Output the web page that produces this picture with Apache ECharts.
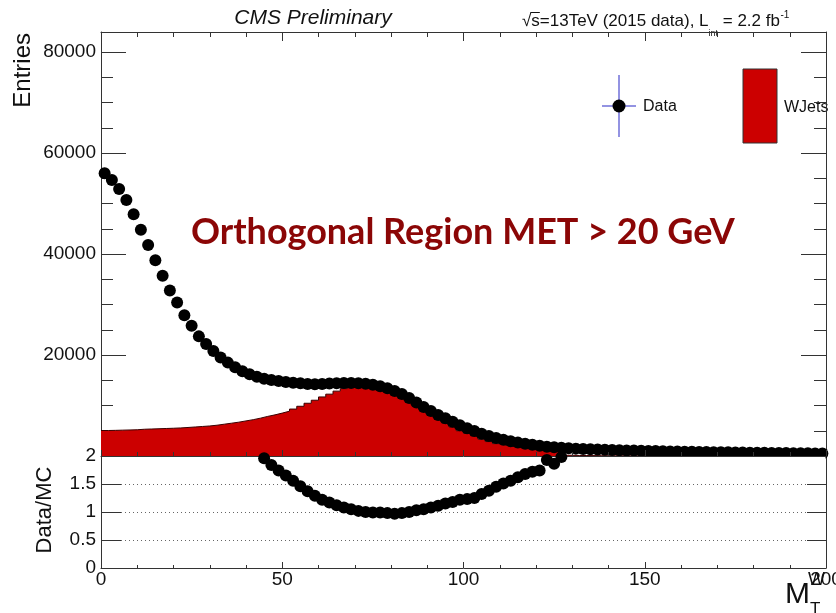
<!DOCTYPE html>
<html>
<head>
<meta charset="utf-8">
<script src="https://cdn.jsdelivr.net/npm/echarts@6/dist/echarts.min.js"></script>
<style>
  html, body { margin: 0; padding: 0; background: #fff; }
  #chart { width: 836px; height: 613px; }
</style>
</head>
<body>
<div id="chart"></div>
<script>
// Transverse-mass histogram, 2 GeV bins from 0 to 200 GeV.
const BIN_WIDTH = 2;
const X_MIN = 0;
const X_MAX = 200;

// Observed entries per bin (bin centres 1, 3, 5, ... 199 GeV).
const dataEntries = [
  56000, 54700, 52900, 50700, 47900, 44800, 41800, 38800, 35700, 32800,
  30400, 27900, 25800, 23700, 22200, 20800, 19500, 18500, 17600, 16800,
  16200, 15700, 15300, 15050, 14850, 14650, 14500, 14400, 14250, 14200,
  14250, 14350, 14400, 14450, 14450, 14400, 14300, 14100, 13800, 13400,
  12900, 12300, 11500, 10600, 9700, 8900, 8100, 7500, 6800, 6100,
  5500, 4950, 4400, 3950, 3550, 3200, 2900, 2650, 2450, 2250,
  2050, 1850, 1720, 1620, 1540, 1460, 1390, 1330, 1280, 1230,
  1190, 1150, 1110, 1070, 1040, 1000, 970, 940, 910, 880,
  850, 830, 800, 780, 760, 740, 720, 700, 680, 660,
  640, 625, 610, 595, 580, 565, 550, 535, 520, 505
];

// W+jets simulation per bin.
const wjetsEntries = [
  5050, 5080, 5120, 5160, 5200, 5300, 5350, 5400, 5450, 5500,
  5560, 5650, 5750, 5850, 5950, 6100, 6300, 6500, 6700, 6950,
  7200, 7500, 7850, 8150, 8500, 8880, 9300, 9850, 10450, 11050,
  11700, 12250, 12850, 13350, 13750, 14100, 14300, 14250, 13950, 13650,
  13300, 12550, 11500, 10300, 9240, 8240, 7300, 6520, 5760, 5000,
  4470, 3960, 3330, 2860, 2450, 2120, 1860, 1640, 1460, 1310,
  1180, 960, 925, 820, 150, 110, 90, 75, 65, 55,
  50, 46, 42, 39, 36, 33, 30, 28, 26, 24,
  22, 20, 19, 18, 17, 16, 15, 14, 13, 12,
  12, 11, 11, 10, 10, 9, 9, 8, 8, 8
];

// Data / MC per bin; null where the ratio falls outside the 0-2 window.
const dataOverMC = [
  null, null, null, null, null, null, null, null, null, null,
  null, null, null, null, null, null, null, null, null, null,
  null, null, 1.96, 1.84, 1.74, 1.65, 1.56, 1.46, 1.37, 1.29,
  1.22, 1.17, 1.12, 1.08, 1.05, 1.02, 1.00, 0.99, 0.99, 0.98,
  0.97, 0.98, 1.00, 1.03, 1.05, 1.08, 1.11, 1.15, 1.18, 1.22,
  1.23, 1.25, 1.32, 1.38, 1.45, 1.51, 1.56, 1.62, 1.68, 1.72,
  1.74, 1.93, 1.86, 1.98, null, null, null, null, null, null,
  null, null, null, null, null, null, null, null, null, null,
  null, null, null, null, null, null, null, null, null, null,
  null, null, null, null, null, null, null, null, null, null
];

const binCenters = dataEntries.map((_, i) => X_MIN + i * BIN_WIDTH + BIN_WIDTH / 2);

// Histogram outline as stairs over the bin edges.
const wjetsStairs = wjetsEntries.map((v, i) => [X_MIN + i * BIN_WIDTH, v]);
wjetsStairs.push([X_MAX, wjetsEntries[wjetsEntries.length - 1]]);

const dataPoints = binCenters.map((c, i) => [c, dataEntries[i]]);
const ratioPoints = binCenters
  .map((c, i) => [c, dataOverMC[i]])
  .filter(p => p[1] !== null);

const FONT = '"Liberation Sans", Arial, Helvetica, sans-serif';
const INK = '#111';
const FRAME = '#333';
const MARKER_SIZE = 12;

const measureCtx = document.createElement('canvas').getContext('2d');
function textWidth(str, font) {
  measureCtx.font = font;
  return measureCtx.measureText(str).width;
}

const chart = echarts.init(document.getElementById('chart'), null, { renderer: 'canvas' });

function xAxisDef(gridIndex, position, majorLen, minorLen, showLabels, z) {
  return {
    type: 'value', gridIndex, position, min: X_MIN, max: X_MAX, interval: 50,
    axisLine: { show: true, onZero: false, lineStyle: { color: FRAME, width: 1 } },
    axisTick: { show: true, inside: true, length: majorLen, lineStyle: { color: FRAME } },
    minorTick: { show: true, splitNumber: 5, length: minorLen, lineStyle: { color: FRAME } },
    axisLabel: {
      show: showLabels, fontSize: 19, fontFamily: FONT, color: INK, margin: 2,
      formatter: v => String(v)
    },
    splitLine: { show: false },
    z
  };
}

function yAxisDef(gridIndex, position, opts) {
  return Object.assign({
    type: 'value', gridIndex, position,
    axisLine: { show: true, onZero: false, lineStyle: { color: FRAME, width: 1 } },
    splitLine: { show: false }
  }, opts);
}

// Header pieces: sqrt(s), luminosity with sub/superscripts.
const hdrFont = '17px ' + FONT;
const hdrX0 = 522;
const hdrY = 21;
const wSqrt = textWidth('\u221A', hdrFont);
const mainStr = 's=13TeV (2015 data), L';
const wMain = textWidth(mainStr, hdrFont);
const subFont = '9px ' + FONT;
const wSub = textWidth('int', subFont);
const tailStr = ' = 2.2 fb';
const wTail = textWidth(tailStr, hdrFont);
const wS = textWidth('s', hdrFont);

const option = {
  animation: false,
  backgroundColor: '#fff',
  grid: [
    { left: 101, top: 32, width: 725, height: 424, outerBoundsMode: 'none', containLabel: false },
    { left: 101, top: 456, width: 725, height: 112, outerBoundsMode: 'none', containLabel: false }
  ],
  xAxis: [
    xAxisDef(0, 'bottom', 6, 4, false, 3),
    xAxisDef(0, 'top', 9, 5, false, 0),
    xAxisDef(1, 'bottom', 6, 3, true, 0)
  ],
  yAxis: [
    yAxisDef(0, 'left', {
      min: 0, max: 84000, interval: 20000,
      axisTick: { show: true, inside: true, length: 25, lineStyle: { color: FRAME } },
      minorTick: { show: true, splitNumber: 4, length: 12, lineStyle: { color: FRAME } },
      axisLabel: {
        fontSize: 19, fontFamily: FONT, color: INK, margin: 5,
        showMinLabel: false, showMaxLabel: false,
        formatter: v => (v % 20000 === 0 ? String(v) : '')
      }
    }),
    yAxisDef(0, 'right', {
      min: 0, max: 84000, interval: 20000,
      axisTick: { show: true, inside: true, length: 25, lineStyle: { color: FRAME } },
      minorTick: { show: true, splitNumber: 4, length: 12, lineStyle: { color: FRAME } },
      axisLabel: { show: false }
    }),
    yAxisDef(1, 'left', {
      min: 0, max: 2, interval: 0.5,
      axisTick: { show: true, inside: true, length: 20, lineStyle: { color: FRAME } },
      axisLabel: { fontSize: 19, fontFamily: FONT, color: INK, margin: 5, formatter: v => String(v) },
      splitLine: {
        show: true, showMinLine: false, showMaxLine: false,
        lineStyle: { type: [1, 3], color: '#666', width: 1 }
      }
    }),
    yAxisDef(1, 'right', {
      min: 0, max: 2, interval: 0.5,
      axisTick: { show: true, inside: true, length: 19, lineStyle: { color: FRAME } },
      axisLabel: { show: false }
    })
  ],
  series: [
    {
      name: 'WJets', type: 'line', xAxisIndex: 0, yAxisIndex: 0,
      data: wjetsStairs, step: 'end', symbol: 'none', silent: true,
      lineStyle: { color: '#3a0000', width: 1 },
      areaStyle: { color: '#CC0000', opacity: 1 },
      z: 1
    },
    {
      name: 'Data', type: 'scatter', xAxisIndex: 0, yAxisIndex: 0,
      data: dataPoints, symbol: 'circle', symbolSize: MARKER_SIZE, clip: false, silent: true,
      itemStyle: { color: '#000', opacity: 1 },
      z: 2
    },
    {
      name: 'Data/MC', type: 'scatter', xAxisIndex: 2, yAxisIndex: 2,
      data: ratioPoints, symbol: 'circle', symbolSize: MARKER_SIZE, clip: false, silent: true,
      itemStyle: { color: '#000', opacity: 1 },
      z: 5
    }
  ],
  graphic: [
    // keeps upper-pad markers from spilling into the ratio pad
    { type: 'rect', z: 3, silent: true,
      shape: { x: 102, y: 457, width: 723.5, height: 7 }, style: { fill: '#fff' } },

    { type: 'text', x: 313, y: 18, silent: true,
      style: { text: 'CMS Preliminary', font: 'italic 21px ' + FONT, fill: INK,
               align: 'center', verticalAlign: 'middle' } },

    { type: 'text', x: hdrX0, y: hdrY, silent: true,
      style: { text: '\u221A', font: hdrFont, fill: INK, align: 'left', verticalAlign: 'middle' } },
    { type: 'line', silent: true,
      shape: { x1: hdrX0 + wSqrt - 1, y1: hdrY - 8.5, x2: hdrX0 + wSqrt + wS, y2: hdrY - 8.5 },
      style: { stroke: INK, lineWidth: 1 } },
    { type: 'text', x: hdrX0 + wSqrt, y: hdrY, silent: true,
      style: { text: mainStr, font: hdrFont, fill: INK, align: 'left', verticalAlign: 'middle' } },
    { type: 'text', x: hdrX0 + wSqrt + wMain, y: hdrY + 13, silent: true,
      style: { text: 'int', font: subFont, fill: INK, align: 'left', verticalAlign: 'middle' } },
    { type: 'text', x: hdrX0 + wSqrt + wMain + wSub, y: hdrY, silent: true,
      style: { text: tailStr, font: hdrFont, fill: INK, align: 'left', verticalAlign: 'middle' } },
    { type: 'text', x: hdrX0 + wSqrt + wMain + wSub + wTail + 0.5, y: hdrY - 6, silent: true,
      style: { text: '-1', font: '10px ' + FONT, fill: INK, align: 'left', verticalAlign: 'middle' } },

    // axis titles
    { type: 'text', x: 23, y: 33, rotation: Math.PI / 2, silent: true,
      style: { text: 'Entries', font: '24px ' + FONT, fill: INK, align: 'right', verticalAlign: 'middle' } },
    { type: 'text', x: 45, y: 510, rotation: Math.PI / 2, silent: true,
      style: { text: 'Data/MC', font: '22px ' + FONT, fill: INK, align: 'center', verticalAlign: 'middle' } },
    { type: 'text', x: 785, y: 595, silent: true,
      style: { text: 'M', font: '30px ' + FONT, fill: INK, align: 'left', verticalAlign: 'middle' } },
    { type: 'text', x: 808, y: 580, silent: true,
      style: { text: 'W', font: '18px ' + FONT, fill: INK, align: 'left', verticalAlign: 'middle' } },
    { type: 'text', x: 810, y: 609, silent: true,
      style: { text: 'T', font: '17px ' + FONT, fill: INK, align: 'left', verticalAlign: 'middle' } },

    // legend
    { type: 'line', silent: true, shape: { x1: 619, y1: 75, x2: 619, y2: 137 },
      style: { stroke: '#6f6fd8', lineWidth: 1.5 } },
    { type: 'line', silent: true, shape: { x1: 602, y1: 106, x2: 636, y2: 106 },
      style: { stroke: '#6f6fd8', lineWidth: 1.5 } },
    { type: 'circle', silent: true, shape: { cx: 619, cy: 106, r: 6.5 }, style: { fill: '#000' } },
    { type: 'text', x: 643, y: 107, silent: true,
      style: { text: 'Data', font: '16px ' + FONT, fill: INK, align: 'left', verticalAlign: 'middle' } },
    { type: 'rect', silent: true, shape: { x: 743, y: 69, width: 34, height: 74 },
      style: { fill: '#CC0000', stroke: '#333', lineWidth: 1 } },
    { type: 'text', x: 784, y: 108, silent: true,
      style: { text: 'WJets', font: '16px ' + FONT, fill: INK, align: 'left', verticalAlign: 'middle' } },

    // region annotation
    { type: 'text', x: 191, y: 232, silent: true,
      style: { text: 'Orthogonal Region MET > 20 GeV', font: 'bold 36px Lato, "Open Sans", sans-serif',
               fill: '#8B0606', align: 'left', verticalAlign: 'middle' } }
  ]
};

chart.setOption(option);
</script>
</body>
</html>
